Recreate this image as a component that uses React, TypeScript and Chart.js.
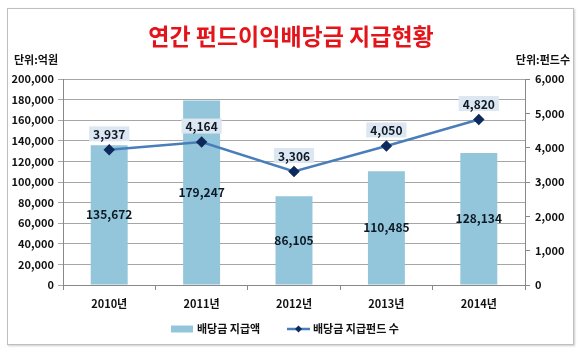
import React, { useEffect, useRef } from "react";
import { Chart, registerables } from "chart.js";

Chart.register(...registerables);

const categories = ["2010년", "2011년", "2012년", "2013년", "2014년"];
const payoutAmounts = [135672, 179247, 86105, 110485, 128134];
const fundCounts = [3937, 4164, 3306, 4050, 4820];
const leftTicks = { min: 0, max: 200000, step: 20000 };
const rightTicks = { min: 0, max: 6000, step: 1000 };
const titleText = "연간 펀드이익배당금 지급현황";
const leftUnit = "단위:억원";
const rightUnit = "단위:펀드수";
const barLabel = "배당금 지급액";
const lineLabel = "배당금 지급펀드 수";

const FONT = "'Noto Sans CJK KR', 'Noto Sans', sans-serif";
const BAR_COLOR = "#93C6DB";
const LINE_COLOR = "#4A7EBB";
const MARKER_COLOR = "#0E2A5C";
const fmt = (v: number) => v.toLocaleString("en-US");

const overlayPlugin = {
  id: "overlay",
  afterDatasetsDraw(chart: any) {
    const ctx = chart.ctx;
    ctx.save();
    // title
    ctx.fillStyle = "#E4141B";
    ctx.font = `bold 23px ${FONT}`;
    ctx.textAlign = "center";
    ctx.textBaseline = "middle";
    ctx.fillText(titleText, 291, 36);
    // units
    ctx.fillStyle = "#111";
    ctx.font = `bold 11px ${FONT}`;
    ctx.textAlign = "left";
    ctx.fillText(leftUnit, 14, 60);
    ctx.textAlign = "right";
    ctx.fillText(rightUnit, 570, 60);

    // bar labels
    const barMeta = chart.getDatasetMeta(0);
    ctx.textAlign = "center";
    ctx.font = `bold 12px ${FONT}`;
    ctx.fillStyle = "#0D1A26";
    barMeta.data.forEach((el: any, i: number) => {
      const mid = (el.y + el.base) / 2;
      ctx.fillText(fmt(payoutAmounts[i]), el.x, mid);
    });

    // line labels with boxes
    const lineMeta = chart.getDatasetMeta(1);
    ctx.font = `bold 12px ${FONT}`;
    lineMeta.data.forEach((el: any, i: number) => {
      const t = fmt(fundCounts[i]);
      const w = ctx.measureText(t).width + 8;
      const h = 15;
      const cy = el.y - 16;
      ctx.fillStyle = "#DDE7F1";
      ctx.fillRect(el.x - w / 2, cy - h / 2, w, h);
      ctx.fillStyle = "#0D1A26";
      ctx.fillText(t, el.x, cy + 0.5);
    });

    // legend
    const ly = 329;
    ctx.fillStyle = BAR_COLOR;
    ctx.fillRect(171, ly - 3.5, 22, 7);
    ctx.fillStyle = "#111";
    ctx.textAlign = "left";
    ctx.font = `bold 11px ${FONT}`;
    ctx.fillText(barLabel, 197, ly);
    ctx.strokeStyle = LINE_COLOR;
    ctx.lineWidth = 2.5;
    ctx.beginPath();
    ctx.moveTo(287, ly);
    ctx.lineTo(310, ly);
    ctx.stroke();
    ctx.fillStyle = MARKER_COLOR;
    ctx.beginPath();
    ctx.moveTo(298.5, ly - 3.5);
    ctx.lineTo(302, ly);
    ctx.lineTo(298.5, ly + 3.5);
    ctx.lineTo(295, ly);
    ctx.closePath();
    ctx.fill();
    ctx.fillStyle = "#111";
    ctx.fillText(lineLabel, 313, ly);
    ctx.restore();
  },
};

export default function App() {
  const ref = useRef<HTMLCanvasElement>(null);
  useEffect(() => {
    if (!ref.current) return;
    const tickFont = { family: FONT, size: 11, weight: "bold" as const };
    const chart = new Chart(ref.current, {
      data: {
        labels: categories,
        datasets: [
          {
            type: "bar",
            label: barLabel,
            data: payoutAmounts,
            backgroundColor: BAR_COLOR,
            yAxisID: "y",
            barPercentage: 0.8,
            categoryPercentage: 0.5,
            order: 2,
          },
          {
            type: "line",
            label: lineLabel,
            data: fundCounts,
            borderColor: LINE_COLOR,
            borderWidth: 2.5,
            pointStyle: "rectRot",
            pointRadius: 4,
            pointBackgroundColor: MARKER_COLOR,
            pointBorderColor: MARKER_COLOR,
            yAxisID: "y1",
            order: 1,
          },
        ],
      } as any,
      options: {
        animation: false,
        responsive: false,
        maintainAspectRatio: false,
        layout: { padding: { left: 0, right: 0, top: 79, bottom: 0 } },
        plugins: { legend: { display: false }, tooltip: { enabled: false }, title: { display: false } },
        scales: {
          x: {
            offset: true,
            grid: { display: true, drawOnChartArea: false, offset: true, tickLength: 5, color: "#888" },
            border: { color: "#888" },
            ticks: { font: tickFont, color: "#111", padding: 7 },
            afterFit: (s: any) => { s.height = 66; },
          },
          y: {
            position: "left",
            min: leftTicks.min,
            max: leftTicks.max,
            ticks: { stepSize: leftTicks.step, font: tickFont, color: "#111", padding: 4, callback: (v: any) => fmt(Number(v)) },
            grid: { color: "#A6A6A6", tickLength: 5, lineWidth: 1 },
            border: { color: "#888" },
            afterFit: (s: any) => { s.width = 63; },
          },
          y1: {
            position: "right",
            min: rightTicks.min,
            max: rightTicks.max,
            ticks: { stepSize: rightTicks.step, font: tickFont, color: "#111", padding: 5, callback: (v: any) => fmt(Number(v)) },
            grid: { drawOnChartArea: false, tickLength: 5, color: "#888" },
            border: { color: "#888" },
            afterFit: (s: any) => { s.width = 55; },
          },
        },
      } as any,
      plugins: [overlayPlugin],
    });
    return () => chart.destroy();
  }, []);
  return (
    <div style={{ position: "absolute", left: 0, top: 0, width: 580, height: 351, background: "#fff" }}>
      <div style={{ position: "absolute", left: 7, top: 8, width: 565, height: 335, border: "1px solid #BFBFBF", boxShadow: "1px 1px 2px #ccc" }} />
      <canvas ref={ref} width={580} height={351} style={{ position: "absolute", left: 0, top: 0, width: 580, height: 351 }} />
    </div>
  );
}
